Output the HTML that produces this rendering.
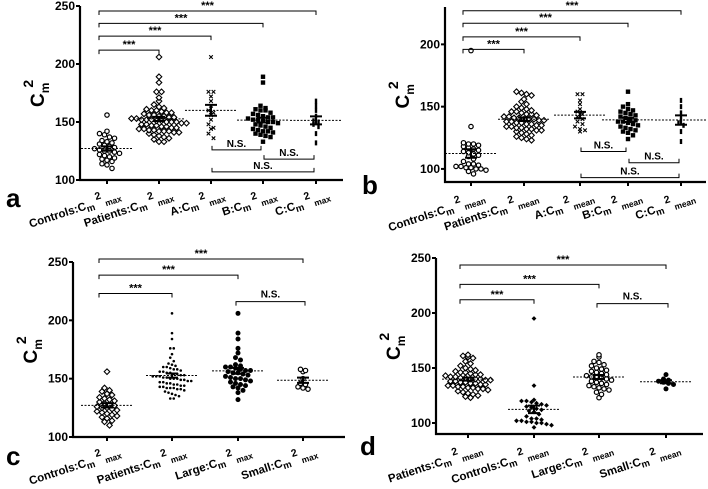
<!DOCTYPE html>
<html><head><meta charset="utf-8"><style>
html,body{margin:0;padding:0;background:#fff;}
#wrap{position:relative;width:708px;height:489px;overflow:hidden;}
svg{display:block;font-family:"Liberation Sans",Arial,sans-serif;}
.xl{position:absolute;white-space:nowrap;font-family:"Liberation Sans",Arial,sans-serif;font-weight:bold;font-size:11.5px;line-height:12px;transform-origin:100% 100%;transform:rotate(-18deg);}
.xl .m{font-size:9.5px;position:relative;top:3px;}
.xl .t{font-size:10.5px;position:relative;top:-6px;margin-left:3px;}
.xl .s{font-size:8.5px;position:relative;top:3px;margin-left:2px;}
</style></head><body>
<div id="wrap">
<svg id="fig" width="708" height="489" viewBox="0 0 708 489"></svg>
</div>
<script>
// ---- data arrays ----
const ctrlMax = [156,142,140,139,137,136,134,133,132,131,130,129,128,127,126,125,125,124,123,122,121,120,119,118,117,116,114,113,110];
const patMax = [206,189,184,176,176,171,168,165,163,162,161,160,160,159,158,158,157,156,156,155,155,154,154,153,153,152,152,152,151,151,150,150,150,149,149,148,148,147,147,146,146,145,145,144,144,143,143,142,142,142,141,141,140,139,138,137,136,135,133,133];
const aMax = [206,176,176,172,168,164,160,158,156,152,148,145,144,140,136];
const bMax = [189,184,164,162,161,160,160,158,157,156,155,154,154,153,152,152,151,150,150,149,148,147,146,145,144,143,142,142,141,140,139,138,137,133];
const cMax = [168,164,160,155,151,150,148,146,140,132];
const ctrlMean = [195,134,121,120,120,119,118,117,116,115,114,113,112,111,110,108,106,104,104,103,102,102,101,101,100,100,99,98,96];
const patMean = [162,161,160,159,156,154,152,150,149,148,147,146,146,145,144,144,143,142,142,141,141,140,140,140,139,139,138,138,137,137,136,136,135,135,134,134,133,133,132,132,131,131,130,129,128,127,126,125,124,123];
const aMean = [160,160,155,152,148,146,144,142,140,138,136,134,132,131,130];
const bMean = [162,152,150,148,147,146,145,144,143,142,141,140,139,138,138,137,136,135,134,133,132,131,130,129,127,124];
const cMean = [155,150,145,140,137,135,130,122];
const largeMax = [206,189,184,176,172,168,166,162,161,160,160,159,158,157,157,156,155,155,154,153,152,151,150,150,149,148,147,146,145,144,143,142,140,138,132];
const smallMax = [158,157,156,150,146,145,143,142,141];
const largeMean = [162,160,156,155,153,152,150,149,148,147,146,145,144,143,142,142,141,140,139,138,137,136,135,134,133,132,131,130,128,126,123];
const smallMean = [144,140,139,138,137,136,135,131];

const NS="http://www.w3.org/2000/svg";
const svg=document.getElementById('fig');
const wrap=document.getElementById('wrap');
function el(tag,attrs,parent){const e=document.createElementNS(NS,tag);for(const k in attrs)e.setAttribute(k,attrs[k]);(parent||svg).appendChild(e);return e;}

const panels=[
 {id:'a',x0:80,x1:343,yAxisTop:6,y0:180,vmin:100,vmax:250,ticks:[100,150,200,250],
  groups:[{d:ctrlMax,m:'circle',l:'Controls',s:'max'},{d:patMax,m:'diamond',l:'Patients',s:'max'},{d:aMax,m:'x',l:'A',s:'max'},{d:bMax,m:'square',l:'B',s:'max'},{d:cMax,m:'dash',l:'C',s:'max'}],
  gx:[107,159,211,263,316],
  br:[[0,1,212,'***'],[0,2,224,'***'],[0,3,235,'***'],[0,4,245.7,'***']],
  ns:[[2,3,126],[3,4,118],[2,4,107]],letter:[6,207]},
 {id:'b',x0:445,x1:706,yAxisTop:7,y0:182,vmin:89.5,vmax:230,ticks:[100,150,200],
  groups:[{d:ctrlMean,m:'circle',l:'Controls',s:'mean'},{d:patMean,m:'diamond',l:'Patients',s:'mean'},{d:aMean,m:'x',l:'A',s:'mean'},{d:bMean,m:'square',l:'B',s:'mean'},{d:cMean,m:'dash',l:'C',s:'mean'}],
  gx:[471,524,580,628,681],
  br:[[0,1,196,'***'],[0,2,206,'***'],[0,3,217,'***'],[0,4,227,'***']],
  ns:[[2,3,114],[3,4,105],[2,4,93]],letter:[362,194]},
 {id:'c',x0:73,x1:345,yAxisTop:262,y0:437,vmin:100,vmax:250,ticks:[100,150,200,250],
  groups:[{d:ctrlMax,m:'diamond',l:'Controls',s:'max'},{d:patMax,m:'dot',l:'Patients',s:'max'},{d:largeMax,m:'fcircle',l:'Large',s:'max'},{d:smallMax,m:'circle',l:'Small',s:'max'}],
  gx:[107,172,238,303],
  br:[[0,1,223,'***'],[0,2,238.8,'***'],[0,3,252.6,'***']],
  ns2:[[2,3,216]],letter:[6,465]},
 {id:'d',x0:436,x1:703,yAxisTop:258,y0:434,vmin:90,vmax:250,ticks:[100,150,200,250],
  groups:[{d:patMean,m:'diamond',l:'Patients',s:'mean'},{d:ctrlMean,m:'fdiamond',l:'Controls',s:'mean'},{d:largeMean,m:'circle',l:'Large',s:'mean'},{d:smallMean,m:'fcircle',l:'Small',s:'mean'}],
  gx:[468,534,599,666],
  br:[[0,1,212,'***'],[0,2,226,'***'],[0,3,243.6,'***']],
  ns2:[[2,3,208.5]],letter:[360,455]}
];

function marker(g,m,x,y){
  let e;
  if(m==='circle'){e=el('circle',{cx:x,cy:y,r:2.2,fill:'#fff',stroke:'#000','stroke-width':1.2},g);}
  else if(m==='fcircle'){e=el('circle',{cx:x,cy:y,r:2.5,fill:'#000'},g);}
  else if(m==='diamond'){e=el('path',{d:`M${x} ${y-2.8}L${x+2.8} ${y}L${x} ${y+2.8}L${x-2.8} ${y}Z`,fill:'#fff',stroke:'#000','stroke-width':1.1},g);}
  else if(m==='fdiamond'){e=el('path',{d:`M${x} ${y-2.4}L${x+2.4} ${y}L${x} ${y+2.4}L${x-2.4} ${y}Z`,fill:'#000'},g);}
  else if(m==='x'){e=el('path',{d:`M${x-1.8} ${y-1.8}L${x+1.8} ${y+1.8}M${x+1.8} ${y-1.8}L${x-1.8} ${y+1.8}`,stroke:'#000','stroke-width':1.1},g);}
  else if(m==='square'){e=el('rect',{x:x-2.2,y:y-2.2,width:4.4,height:4.4,fill:'#000'},g);}
  else if(m==='dash'){e=el('rect',{x:x-1.2,y:y-2.5,width:2.4,height:5,fill:'#000'},g);}
  else {e=el('circle',{cx:x,cy:y,r:1.3,fill:'#000'},g);}
  
  
}
function tsp(parent,txt,attrs){const t=el('tspan',attrs,parent);t.textContent=txt;return t;}

panels.forEach(p=>{
  const sc=(p.y0-p.yAxisTop)/(p.vmax-p.vmin);
  const Y=v=>p.y0-(v-p.vmin)*sc;
  const pg=el('g',{});
  
  
  const ya=el('line',{x1:p.x0,y1:p.yAxisTop,x2:p.x0,y2:p.y0+1,stroke:'#000','stroke-width':2.2},pg);
  
  const xa=el('line',{x1:p.x0-1,y1:p.y0,x2:p.x1,y2:p.y0,stroke:'#000','stroke-width':2.2},pg);
  
  p.ticks.forEach(t=>{
    el('line',{x1:p.x0-4,y1:Y(t),x2:p.x0,y2:Y(t),stroke:'#000','stroke-width':2},pg);
    const tx=el('text',{x:p.x0-5,y:Y(t)+4,'text-anchor':'end','font-size':12,'font-weight':'bold'},pg);
    tx.textContent=t;
  });
  const yc=p.x0-36, ym=(p.yAxisTop+p.y0)/2;
  const yt=el('text',{transform:`translate(${yc},${ym+14}) rotate(-90)`,'font-size':19,'font-weight':'bold'},pg);
  
  yt.appendChild(document.createTextNode('C'));
  tsp(yt,'m',{'font-size':12,dy:5});
  tsp(yt,'2',{'font-size':14,dy:-16,dx:-5});
  const lt=el('text',{x:p.letter[0],y:p.letter[1],'font-size':26,'font-weight':'bold'},pg);
  lt.textContent=p.id;
  p.groups.forEach((g,i)=>{
    const gx=p.gx[i];
    el('line',{x1:gx,y1:p.y0,x2:gx,y2:p.y0+4,stroke:'#000','stroke-width':2},pg);
    const gg=el('g',{},pg);
    
    const binH=5/sc, bins={};
    g.d.forEach(v=>{const b=Math.round(v/binH);(bins[b]=bins[b]||[]).push(v);});
    Object.values(bins).forEach(arr=>{
      const n=arr.length, step=g.m==='dot'?3.5:5;
      arr.forEach((v,k)=>{const off=(k-(n-1)/2)*step;marker(gg,g.m,gx+off,Y(v));});
    });
    const mean=g.d.reduce((a,b)=>a+b,0)/g.d.length;
    const sd=Math.sqrt(g.d.reduce((a,b)=>a+(b-mean)**2,0)/(g.d.length-1));
    const sem=sd/Math.sqrt(g.d.length);
    const ml=el('line',{x1:gx-26,y1:Y(mean),x2:gx+26,y2:Y(mean),stroke:'#000','stroke-width':1,'stroke-dasharray':'2,1.5'},pg);
    
    const eb=el('path',{d:`M${gx-6} ${Y(mean+sem)}H${gx+6}M${gx} ${Y(mean+sem)}V${Y(mean-sem)}M${gx-6} ${Y(mean-sem)}H${gx+6}`,stroke:'#000','stroke-width':2,fill:'none'},pg);
    
    // rotated HTML label, right edge anchored near tick
    const d=document.createElement('div');
    d.className='xl';
    
    
    d.style.right=(708-(gx+16))+'px';
    d.style.bottom=(489-(p.y0+22))+'px';
    d.innerHTML=`${g.l}:C<span class="m">m</span><span class="t">2</span><span class="s">${g.s}</span>`;
    wrap.appendChild(d);
  });
  (p.br||[]).forEach(b=>{
    const xa_=p.gx[b[0]]-8, xb=p.gx[b[1]], y=Y(b[2]);
    const bp=el('path',{d:`M${xa_} ${y+4}V${y}H${xb}V${y+4}`,stroke:'#000','stroke-width':1,fill:'none'},pg);
    
    const tx=el('text',{x:(xa_+xb)/2,y:y-2,'text-anchor':'middle','font-size':11,'font-weight':'bold'},pg);
    tx.textContent=b[3];
  });
  (p.ns||[]).forEach(b=>{
    const xa_=p.gx[b[0]]+1, xb=p.gx[b[1]]-2, y=Y(b[2]);
    const bp=el('path',{d:`M${xa_} ${y-4}V${y}H${xb}V${y-4}`,stroke:'#000','stroke-width':1,fill:'none'},pg);
    
    const tx=el('text',{x:(xa_+xb)/2,y:y-3,'text-anchor':'middle','font-size':10,'font-weight':'bold'},pg);
    tx.textContent='N.S.';
  });
  (p.ns2||[]).forEach(b=>{
    const xa_=p.gx[b[0]]-2, xb=p.gx[b[1]]+2, y=Y(b[2]);
    const bp=el('path',{d:`M${xa_} ${y+4}V${y}H${xb}V${y+4}`,stroke:'#000','stroke-width':1,fill:'none'},pg);
    
    const tx=el('text',{x:(xa_+xb)/2,y:y-4,'text-anchor':'middle','font-size':10,'font-weight':'bold'},pg);
    tx.textContent='N.S.';
  });
});
</script>
</body></html>
